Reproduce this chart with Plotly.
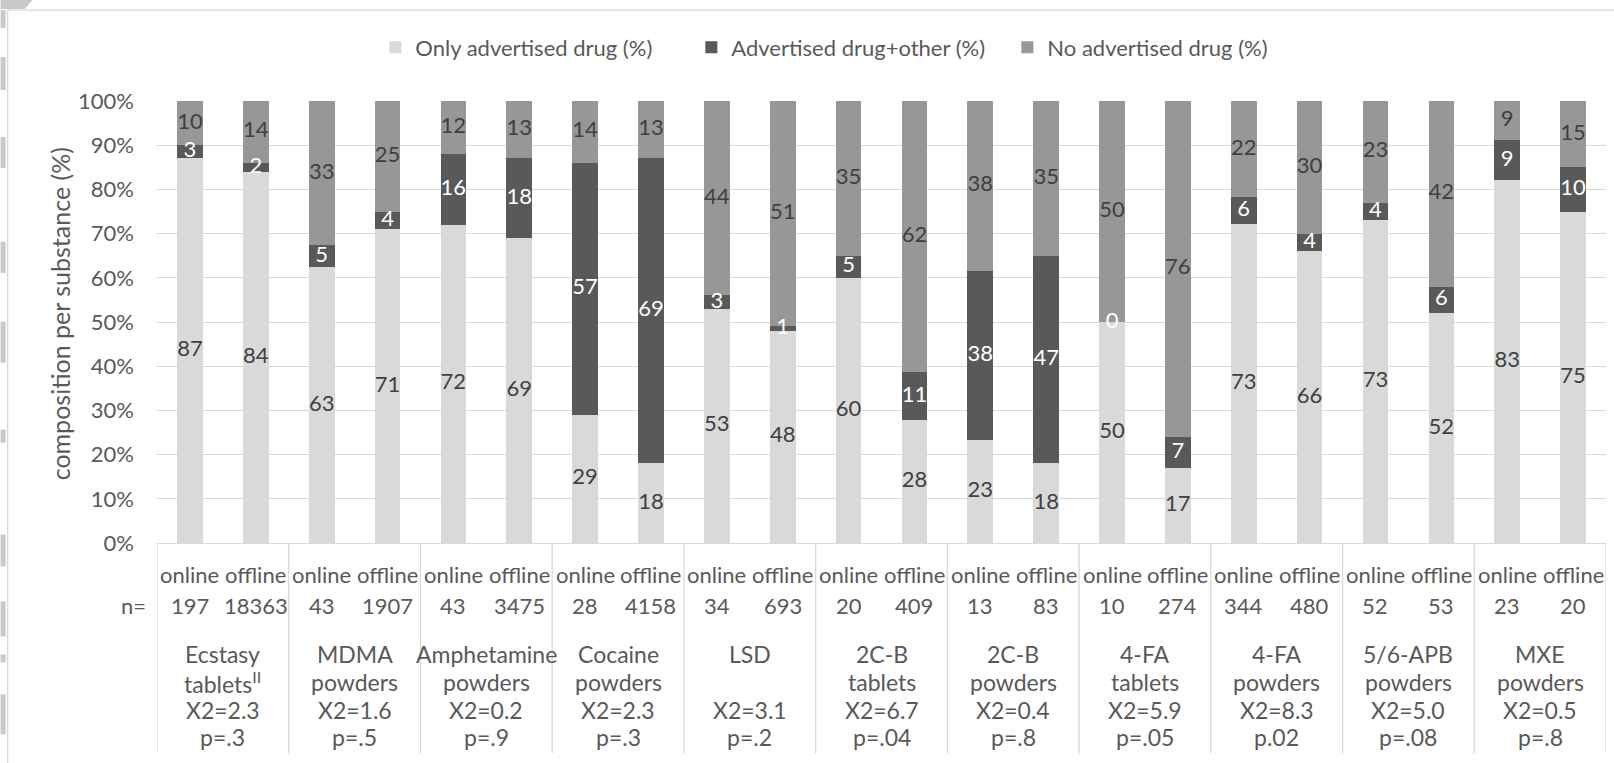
import numpy as np
import plotly.graph_objects as go

# ---------------- data ----------------
group_line1 = ["Ecstasy", "MDMA", "Amphetamine", "Cocaine", "LSD", "2C-B", "2C-B",
               "4-FA", "4-FA", "5/6-APB", "MXE"]
group_line2 = ["tablets<sup>II</sup>", "powders", "powders", "powders", "", "tablets",
               "powders", "tablets", "powders", "powders", "powders"]
chi2_labels = ["X2=2.3", "X2=1.6", "X2=0.2", "X2=2.3", "X2=3.1", "X2=6.7", "X2=0.4",
               "X2=5.9", "X2=8.3", "X2=5.0", "X2=0.5"]
p_labels = ["p=.3", "p=.5", "p=.9", "p=.3", "p=.2", "p=.04", "p=.8", "p=.05",
            "p.02", "p=.08", "p=.8"]
channels = ["online", "offline"]
n_online = [197, 43, 43, 28, 34, 20, 13, 10, 344, 52, 23]
n_offline = [18363, 1907, 3475, 4158, 693, 409, 83, 274, 480, 53, 20]

only_online = [87, 63, 72, 29, 53, 60, 23, 50, 73, 73, 83]
only_offline = [84, 71, 69, 18, 48, 28, 18, 17, 66, 52, 75]
other_online = [3, 5, 16, 57, 3, 5, 38, 0, 6, 4, 9]
other_offline = [2, 4, 18, 69, 1, 11, 47, 7, 4, 6, 10]
none_online = [10, 33, 12, 14, 44, 35, 38, 50, 22, 23, 9]
none_offline = [14, 25, 13, 13, 51, 62, 35, 76, 30, 42, 15]

series_names = ["Only advertised drug (%)", "Advertised drug+other (%)", "No advertised drug (%)"]
series_colors = ["#d9d9d9", "#595959", "#979797"]
label_colors = ["#404040", "#ffffff", "#404040"]
y_ticks = [0, 10, 20, 30, 40, 50, 60, 70, 80, 90, 100]
y_title = "composition per substance (%)"

# ---------------- derived ----------------
def interleave(a, b):
    out = []
    for u, v in zip(a, b):
        out += [u, v]
    return np.array(out, dtype=float)

raw = [interleave(only_online, only_offline),
       interleave(other_online, other_offline),
       interleave(none_online, none_offline)]
totals = raw[0] + raw[1] + raw[2]
norm = [r / totals * 100 for r in raw]
n_bars = len(totals)
xpos = np.arange(n_bars)
n_labels = interleave(n_online, n_offline).astype(int)
chan_labels = channels * len(n_online)

FONT = "Lato, 'Open Sans', sans-serif"
TXT = "#595959"
W, H = 1614, 763
L, R, T, B = 156.5, 1606.5, 101.0, 543.5
FS = 22


def py_(py):
    return (B - py) / (B - T)


def px_(px):
    return (px - L) / (R - L)


fig = go.Figure()
for k in range(3):
    fig.add_trace(go.Bar(
        x=xpos, y=norm[k], name=series_names[k],
        marker=dict(color=series_colors[k], line=dict(width=0)),
        hoverinfo="skip",
    ))

# segment value labels
base = np.zeros(n_bars)
for k in range(3):
    mids = base + norm[k] / 2
    base = base + norm[k]
    fig.add_trace(go.Scatter(
        x=xpos, y=mids, mode="text",
        text=[str(int(v)) for v in raw[k]],
        textfont=dict(family=FONT, size=FS, color=label_colors[k]),
        textposition="middle center",
        showlegend=False, hoverinfo="skip", cliponaxis=False,
    ))

annotations = []
for i in range(n_bars):
    annotations.append(dict(x=xpos[i], y=py_(575), xref="x", yref="paper",
                            text=chan_labels[i], showarrow=False,
                            font=dict(family=FONT, size=FS, color=TXT),
                            xanchor="center", yanchor="middle"))
    annotations.append(dict(x=xpos[i], y=py_(606), xref="x", yref="paper",
                            text=str(n_labels[i]), showarrow=False,
                            font=dict(family=FONT, size=FS, color=TXT),
                            xanchor="center", yanchor="middle"))
for g in range(len(group_line1)):
    gx = 2 * g + 0.5
    for txt, py in [(group_line1[g], 655), (group_line2[g], 683),
                    (chi2_labels[g], 711), (p_labels[g], 738)]:
        if txt:
            annotations.append(dict(x=gx, y=py_(py), xref="x", yref="paper",
                                    text=txt, showarrow=False,
                                    font=dict(family=FONT, size=23, color=TXT),
                                    xanchor="center", yanchor="middle"))
annotations.append(dict(x=px_(147), y=py_(606), xref="paper", yref="paper",
                        text="n=", showarrow=False,
                        font=dict(family=FONT, size=FS, color=TXT),
                        xanchor="right", yanchor="middle"))
annotations.append(dict(x=px_(59), y=py_(314), xref="paper", yref="paper",
                        text=y_title, showarrow=False, textangle=-90,
                        font=dict(family=FONT, size=25, color=TXT),
                        xanchor="center", yanchor="middle"))

shapes = []
for g in range(len(group_line1) + 1):
    sx = 2 * g - 0.5
    shapes.append(dict(type="line", xref="x", yref="paper", x0=sx, x1=sx,
                       y0=0, y1=py_(754), line=dict(color="#d9d9d9", width=1.3)))
# outer frame of the chart area
shapes.append(dict(type="line", xref="paper", yref="paper",
                   x0=px_(7), x1=px_(1620), y0=py_(10), y1=py_(10),
                   line=dict(color="#d9d9d9", width=1.3)))
shapes.append(dict(type="line", xref="paper", yref="paper",
                   x0=px_(7), x1=px_(7), y0=py_(10), y1=py_(770),
                   line=dict(color="#d9d9d9", width=1.3)))
# decorative grey blocks at the left edge
for y0, y1 in [(10, 28), (57, 90), (137, 168), (242, 273), (322, 363), (430, 443),
               (535, 567), (602, 637), (655, 663), (695, 735)]:
    shapes.append(dict(type="rect", xref="paper", yref="paper",
                       x0=px_(0), x1=px_(5), y0=py_(y1), y1=py_(y0),
                       fillcolor="#c8c8c8", line=dict(width=0), layer="below"))
shapes.append(dict(type="path", xref="paper", yref="paper",
                   path="M {} {} L {} {} L {} {} L {} {} Z".format(
                       px_(0), py_(0), px_(32), py_(0),
                       px_(24), py_(9), px_(0), py_(9)),
                   fillcolor="#c8c8c8", line=dict(width=0)))

fig.update_layout(
    width=W, height=H,
    margin=dict(l=L, r=W - R, t=T, b=H - B),
    paper_bgcolor="white", plot_bgcolor="white",
    barmode="stack", bargap=0.61,
    font=dict(family=FONT, size=FS, color=TXT),
    legend=dict(orientation="h", x=px_(375), xanchor="left",
                y=py_(47.5), yanchor="middle",
                font=dict(family=FONT, size=FS, color=TXT),
                itemwidth=30, traceorder="normal",
                entrywidth=271, entrywidthmode="pixels"),
    xaxis=dict(range=[-0.5, n_bars - 0.5], showticklabels=False, showgrid=False,
               zeroline=False, showline=True, linecolor="#d9d9d9", linewidth=1.3,
               ticks=""),
    yaxis=dict(range=[0, 100], tickmode="array", tickvals=y_ticks,
               ticktext=[f"{v}%" for v in y_ticks],
               showgrid=True, gridcolor="#d9d9d9", gridwidth=1.3,
               zeroline=False, showline=False, ticks="",
               ticklabelstandoff=22,
               tickfont=dict(family=FONT, size=FS, color=TXT)),
    annotations=annotations, shapes=shapes,
)

fig.write_html("out.html",
               config={"displayModeBar": False},
               post_script="document.body.style.margin='0';"
                           "document.body.style.overflow='hidden';")
